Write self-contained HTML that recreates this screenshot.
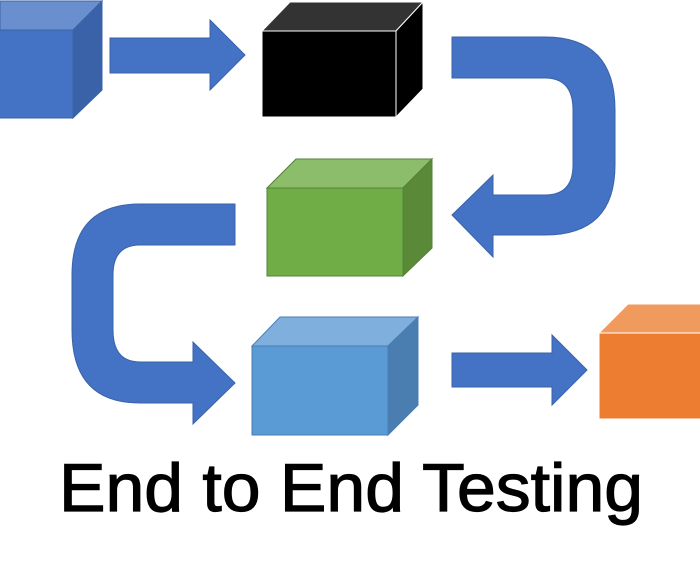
<!DOCTYPE html>
<html><head><style>body{margin:0;background:#fff}svg{display:block}</style></head><body>
<svg width="700" height="586" viewBox="0 0 700 586" xmlns="http://www.w3.org/2000/svg">
<g stroke-width="1">
<polygon points="0,30 73,30 102,1 0,1" fill="#6a8fcf" stroke="#3a63a8"/>
<polygon points="73,30 102,1 102,90 73,118" fill="#3a62a8" stroke="#3a63a8"/>
<rect x="-1" y="30" width="74" height="88" fill="#4472c4" stroke="#3a63a8"/>
<polygon points="110,38 210,38 210,20 245,55 210,90 210,73 110,73" fill="#4472c4" stroke="#3a63a8"/>
<polygon points="262,31 290,2 423,2 396,31" fill="#333" stroke="#fff"/>
<polygon points="396,31 423,2 423,89 396,117" fill="#000" stroke="#fff"/>
<rect x="262" y="31" width="134" height="86" fill="#000" stroke="#fff"/>
<path d="M452,37 L545,37 Q615,37 615,110 L615,165 Q615,235 545,235 L493,235 L493,257 L452,215 L493,175 L493,195 L545,195 Q573,195 573,165 L573,110 Q573,78 545,78 L452,78 Z" fill="#4472c4" stroke="#3a63a8"/>
<polygon points="267,188 296,159 432,159 403,188" fill="#8cbd6a" stroke="#548235"/>
<polygon points="403,188 432,159 432,248 403,276" fill="#5a8a37" stroke="#548235"/>
<rect x="267" y="188" width="136" height="88" fill="#70ad47" stroke="#548235"/>
<path d="M235,204 L140,204 Q72,204 72,275 L72,330 Q72,403 140,403 L193,403 L193,424 L235,383 L193,342 L193,362 L140,362 Q113,362 113,330 L113,275 Q113,245 140,245 L235,245 Z" fill="#4472c4" stroke="#3a63a8"/>
<polygon points="252,346 280,317 418,317 388,346" fill="#7eafdd" stroke="#4a7eb5"/>
<polygon points="388,346 418,317 418,405 388,435" fill="#4a7db0" stroke="#4a7eb5"/>
<rect x="252" y="346" width="136" height="89" fill="#5b9bd5" stroke="#4a7eb5"/>
<polygon points="452,353 552,353 552,335 587,370 552,405 552,387 452,387" fill="#4472c4" stroke="#3a63a8"/>
<polygon points="599,333 628,304 701,304 701,333" fill="#f09a5e" stroke="#fff"/>
<rect x="599" y="333" width="102" height="86" fill="#ed7d31" stroke="#fff"/>
</g>
<text x="59" y="511" font-family="Liberation Sans, sans-serif" font-size="68" fill="#000" stroke="#000" stroke-width="1.2" textLength="584" lengthAdjust="spacingAndGlyphs">End to End Testing</text>
</svg>
</body></html>
